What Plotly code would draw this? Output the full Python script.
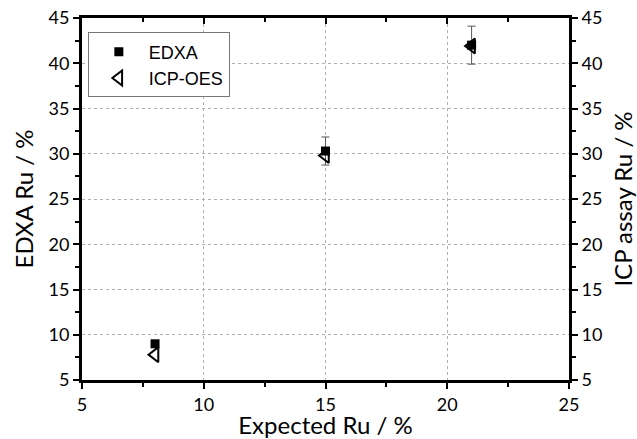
import plotly.graph_objects as go

expected = [8, 15, 21]
edxa = [9.0, 30.3, 42.0]
edxa_err = [0.0, 1.55, 2.1]
icp = [7.8, 29.8, 41.9]
x_ticks = [5, 10, 15, 20, 25]
y_ticks = [5, 10, 15, 20, 25, 30, 35, 40, 45]

tick_font = dict(family="Lato, 'Open Sans', sans-serif", size=18, color="black")
title_font = dict(family="Lato, 'Open Sans', sans-serif", size=24, color="black")

fig = go.Figure()
fig.add_trace(go.Scatter(
    x=expected, y=edxa, mode="markers", name="EDXA",
    marker=dict(symbol="square", size=9, color="black"),
    error_y=dict(type="data", array=edxa_err, visible=True, color="#555555",
                 thickness=1, width=4),
))
fig.add_trace(go.Scatter(
    x=expected, y=icp, mode="markers", name="ICP-OES", yaxis="y2",
    marker=dict(symbol="triangle-left-open", size=13, color="black",
                line=dict(width=2, color="black")),
))

axis_common = dict(
    showline=True, linecolor="black", linewidth=3,
    ticks="outside", ticklen=6, tickwidth=2, tickcolor="black",
    tickfont=tick_font, zeroline=False, automargin=False,
)

fig.update_layout(
    width=637, height=439,
    margin=dict(l=82, r=68, t=18, b=59),
    paper_bgcolor="white", plot_bgcolor="white",
    showlegend=True,
    legend=dict(
        x=0.012, y=0.96, xanchor="left", yanchor="top",
        bordercolor="#777777", borderwidth=1, bgcolor="white",
        font=dict(family="'Liberation Sans', Arial, sans-serif", size=18, color="black"),
        tracegroupgap=0, itemwidth=50, entrywidth=100,
    ),
    xaxis=dict(
        range=[5, 25], tickvals=x_ticks, **axis_common,
        showgrid=True, gridcolor="#b0b0b0", griddash="dot", gridwidth=1,
        minor=dict(dtick=2.5, ticks="outside", ticklen=4, tickwidth=2, tickcolor="black"),
        title=dict(text="Expected Ru / %", font=title_font, standoff=9),
    ),
    xaxis2=dict(
        range=[5, 25], overlaying="x", side="top", tickvals=x_ticks,
        showline=True, linecolor="black", linewidth=3,
        ticks="inside", ticklen=6, tickwidth=2, tickcolor="black",
        showticklabels=False, showgrid=False, zeroline=False,
        minor=dict(dtick=2.5, ticks="inside", ticklen=4, tickwidth=2, tickcolor="black"),
    ),
    yaxis=dict(
        range=[5, 45], tickvals=y_ticks, **axis_common,
        showgrid=True, gridcolor="#b0b0b0", griddash="dot", gridwidth=1,
        minor=dict(dtick=2.5, ticks="outside", ticklen=4, tickwidth=2, tickcolor="black"),
        title=dict(text="EDXA Ru / %", font=title_font, standoff=9),
    ),
    yaxis2=dict(
        range=[5, 45], tickvals=y_ticks, overlaying="y", side="right", **axis_common,
        showgrid=False,
        minor=dict(dtick=2.5, ticks="outside", ticklen=4, tickwidth=2, tickcolor="black"),
        title=dict(text="ICP assay Ru / %", font=title_font, standoff=14),
    ),
)
# invisible trace to activate the mirrored top axis
fig.add_trace(go.Scatter(x=[5], y=[5], xaxis="x2", mode="markers",
                         marker=dict(opacity=0), showlegend=False, hoverinfo="skip"))

fig.write_html("out.html", config={"displayModeBar": False},
               post_script="document.body.style.margin='0';")
